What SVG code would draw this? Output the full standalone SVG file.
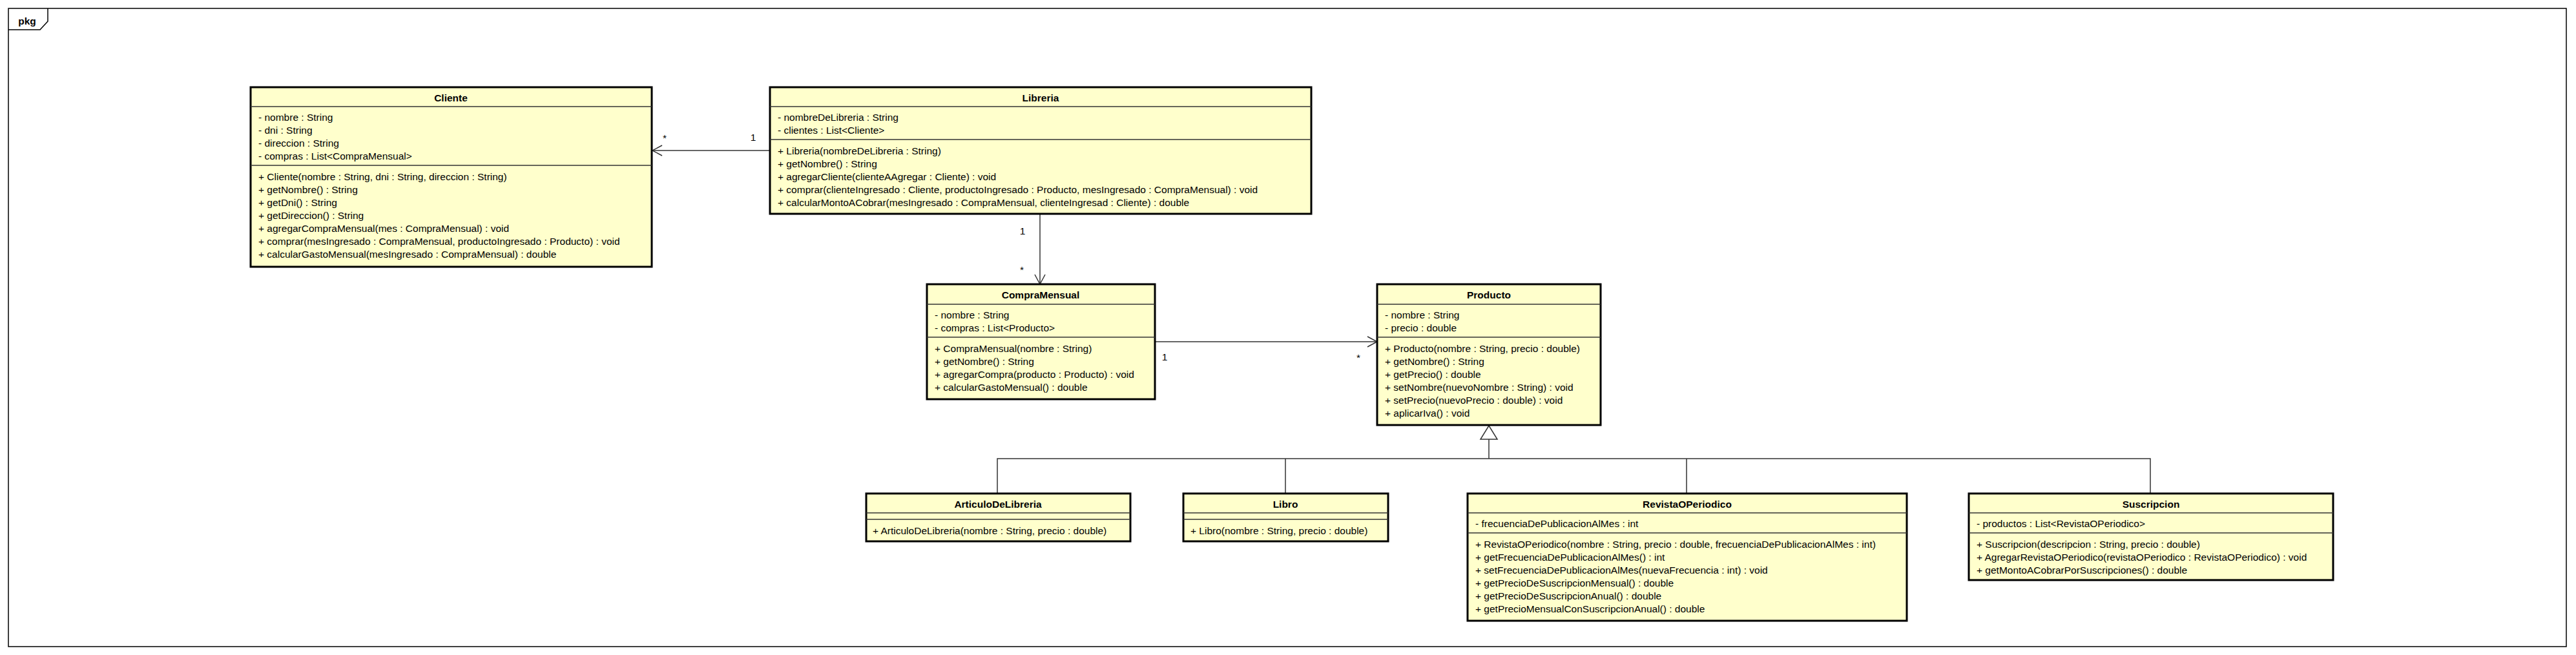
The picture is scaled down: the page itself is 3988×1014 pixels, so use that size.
<svg xmlns="http://www.w3.org/2000/svg" width="3988" height="1014" viewBox="0 0 3988 1014">
<style>
.box{fill:#FFFFCC;stroke:#000;stroke-width:3}
.div{stroke:#333;stroke-width:1.5}
text{font-family:"Liberation Sans",Arial,sans-serif;font-size:15.5px;fill:#000}
.h{font-weight:bold;text-anchor:middle}
.c{fill:none;stroke:#333;stroke-width:1.5}
</style>
<defs>
<marker id="open" markerUnits="userSpaceOnUse" markerWidth="20" markerHeight="20" viewBox="-16 -10 20 20" refX="0" refY="0" orient="auto">
<path d="M-15,-8 L0,0 L-15,8" fill="none" stroke="#333" stroke-width="1.5"/>
</marker>
</defs>
<rect width="3988" height="1014" fill="#fff"/>
<g id="frame">
<rect x="13" y="13" width="3960" height="988" fill="none" stroke="#000" stroke-width="1.5"/>
<path d="M13,46 H62 L74,33 V13" fill="none" stroke="#000" stroke-width="1.5"/>
<text x="42" y="38" class="h">pkg</text>
</g>
<g id="connectors">
<line x1="1192" y1="233" x2="1010" y2="233" class="c" marker-end="url(#open)"/>
<line x1="1610" y1="331" x2="1610" y2="440" class="c" marker-end="url(#open)"/>
<line x1="1788" y1="529" x2="2132" y2="529" class="c" marker-end="url(#open)"/>
<path d="M1544,764 V710 H3329 V764 M1990,710 V764 M2611,710 V764 M2305,710 V680" class="c"/>
<polygon points="2305,659 2292,680 2318,680" fill="#fff" stroke="#333" stroke-width="1.5"/>
<text x="1029" y="219" text-anchor="middle">*</text>
<text x="1166" y="218" text-anchor="middle">1</text>
<text x="1583" y="363" text-anchor="middle">1</text>
<text x="1582" y="423" text-anchor="middle">*</text>
<text x="1803" y="558" text-anchor="middle">1</text>
<text x="2103" y="559" text-anchor="middle">*</text>
</g>
<g id="Cliente">
<rect x="388" y="135" width="621" height="278" class="box"/>
<line x1="388" y1="165" x2="1009" y2="165" class="div"/>
<line x1="388" y1="256" x2="1009" y2="256" class="div"/>
<text x="698" y="157" class="h">Cliente</text>
<text x="400" y="187">- nombre : String</text>
<text x="400" y="207">- dni : String</text>
<text x="400" y="227">- direccion : String</text>
<text x="400" y="247">- compras : List&lt;CompraMensual&gt;</text>
<text x="400" y="279">+ Cliente(nombre : String, dni : String, direccion : String)</text>
<text x="400" y="299">+ getNombre() : String</text>
<text x="400" y="319">+ getDni() : String</text>
<text x="400" y="339">+ getDireccion() : String</text>
<text x="400" y="359">+ agregarCompraMensual(mes : CompraMensual) : void</text>
<text x="400" y="379">+ comprar(mesIngresado : CompraMensual, productoIngresado : Producto) : void</text>
<text x="400" y="399">+ calcularGastoMensual(mesIngresado : CompraMensual) : double</text>
</g>
<g id="Libreria">
<rect x="1192" y="135" width="838" height="196" class="box"/>
<line x1="1192" y1="165" x2="2030" y2="165" class="div"/>
<line x1="1192" y1="216" x2="2030" y2="216" class="div"/>
<text x="1611" y="157" class="h">Libreria</text>
<text x="1204" y="187">- nombreDeLibreria : String</text>
<text x="1204" y="207">- clientes : List&lt;Cliente&gt;</text>
<text x="1204" y="239">+ Libreria(nombreDeLibreria : String)</text>
<text x="1204" y="259">+ getNombre() : String</text>
<text x="1204" y="279">+ agregarCliente(clienteAAgregar : Cliente) : void</text>
<text x="1204" y="299">+ comprar(clienteIngresado : Cliente, productoIngresado : Producto, mesIngresado : CompraMensual) : void</text>
<text x="1204" y="319">+ calcularMontoACobrar(mesIngresado : CompraMensual, clienteIngresad : Cliente) : double</text>
</g>
<g id="CompraMensual">
<rect x="1435" y="440" width="353" height="178" class="box"/>
<line x1="1435" y1="471" x2="1788" y2="471" class="div"/>
<line x1="1435" y1="522" x2="1788" y2="522" class="div"/>
<text x="1611" y="462" class="h">CompraMensual</text>
<text x="1447" y="493">- nombre : String</text>
<text x="1447" y="513">- compras : List&lt;Producto&gt;</text>
<text x="1447" y="545">+ CompraMensual(nombre : String)</text>
<text x="1447" y="565">+ getNombre() : String</text>
<text x="1447" y="585">+ agregarCompra(producto : Producto) : void</text>
<text x="1447" y="605">+ calcularGastoMensual() : double</text>
</g>
<g id="Producto">
<rect x="2132" y="440" width="346" height="218" class="box"/>
<line x1="2132" y1="471" x2="2478" y2="471" class="div"/>
<line x1="2132" y1="522" x2="2478" y2="522" class="div"/>
<text x="2305" y="462" class="h">Producto</text>
<text x="2144" y="493">- nombre : String</text>
<text x="2144" y="513">- precio : double</text>
<text x="2144" y="545">+ Producto(nombre : String, precio : double)</text>
<text x="2144" y="565">+ getNombre() : String</text>
<text x="2144" y="585">+ getPrecio() : double</text>
<text x="2144" y="605">+ setNombre(nuevoNombre : String) : void</text>
<text x="2144" y="625">+ setPrecio(nuevoPrecio : double) : void</text>
<text x="2144" y="645">+ aplicarIva() : void</text>
</g>
<g id="ArticuloDeLibreria">
<rect x="1341" y="764" width="409" height="74" class="box"/>
<line x1="1341" y1="794" x2="1750" y2="794" class="div"/>
<line x1="1341" y1="804" x2="1750" y2="804" class="div"/>
<text x="1545" y="786" class="h">ArticuloDeLibreria</text>
<text x="1351" y="827">+ ArticuloDeLibreria(nombre : String, precio : double)</text>
</g>
<g id="Libro">
<rect x="1832" y="764" width="317" height="74" class="box"/>
<line x1="1832" y1="794" x2="2149" y2="794" class="div"/>
<line x1="1832" y1="804" x2="2149" y2="804" class="div"/>
<text x="1990" y="786" class="h">Libro</text>
<text x="1843" y="827">+ Libro(nombre : String, precio : double)</text>
</g>
<g id="RevistaOPeriodico">
<rect x="2272" y="764" width="680" height="197" class="box"/>
<line x1="2272" y1="794" x2="2952" y2="794" class="div"/>
<line x1="2272" y1="825" x2="2952" y2="825" class="div"/>
<text x="2612" y="786" class="h">RevistaOPeriodico</text>
<text x="2284" y="816">- frecuenciaDePublicacionAlMes : int</text>
<text x="2284" y="848">+ RevistaOPeriodico(nombre : String, precio : double, frecuenciaDePublicacionAlMes : int)</text>
<text x="2284" y="868">+ getFrecuenciaDePublicacionAlMes() : int</text>
<text x="2284" y="888">+ setFrecuenciaDePublicacionAlMes(nuevaFrecuencia : int) : void</text>
<text x="2284" y="908">+ getPrecioDeSuscripcionMensual() : double</text>
<text x="2284" y="928">+ getPrecioDeSuscripcionAnual() : double</text>
<text x="2284" y="948">+ getPrecioMensualConSuscripcionAnual() : double</text>
</g>
<g id="Suscripcion">
<rect x="3048" y="764" width="564" height="134" class="box"/>
<line x1="3048" y1="794" x2="3612" y2="794" class="div"/>
<line x1="3048" y1="825" x2="3612" y2="825" class="div"/>
<text x="3330" y="786" class="h">Suscripcion</text>
<text x="3060" y="816">- productos : List&lt;RevistaOPeriodico&gt;</text>
<text x="3060" y="848">+ Suscripcion(descripcion : String, precio : double)</text>
<text x="3060" y="868">+ AgregarRevistaOPeriodico(revistaOPeriodico : RevistaOPeriodico) : void</text>
<text x="3060" y="888">+ getMontoACobrarPorSuscripciones() : double</text>
</g>
</svg>
